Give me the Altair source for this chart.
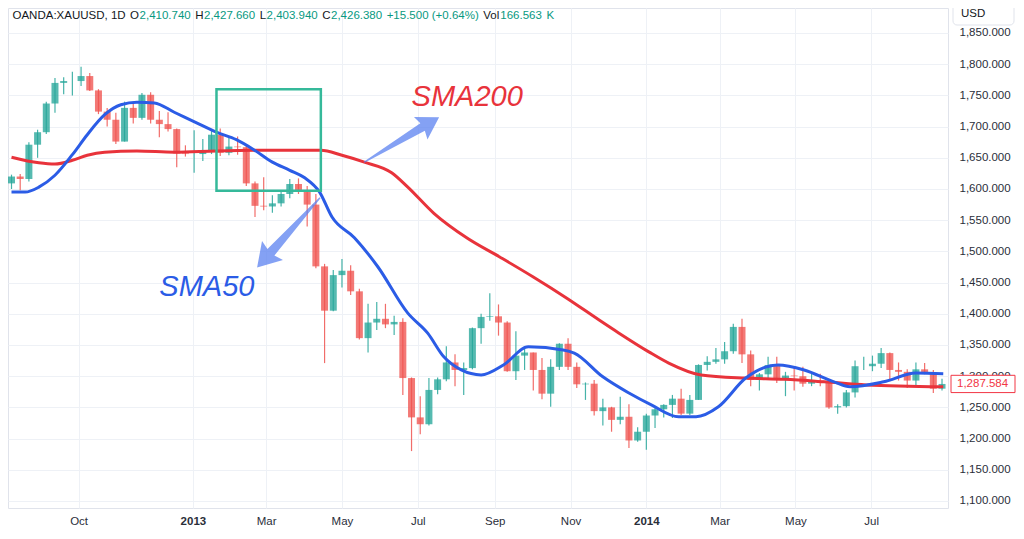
import altair as alt
import pandas as pd

# ---------------- data ----------------
week_dates = [
    "2012-08-08", "2012-08-15", "2012-08-22", "2012-08-29", "2012-09-05", "2012-09-12", "2012-09-19",
    "2012-09-26", "2012-10-03", "2012-10-10", "2012-10-17", "2012-10-24", "2012-10-31", "2012-11-07",
    "2012-11-14", "2012-11-21", "2012-11-28", "2012-12-05", "2012-12-12", "2012-12-19", "2012-12-26",
    "2013-01-02", "2013-01-09", "2013-01-16", "2013-01-23", "2013-01-30", "2013-02-06", "2013-02-13",
    "2013-02-20", "2013-02-27", "2013-03-06", "2013-03-13", "2013-03-20", "2013-03-27", "2013-04-03",
    "2013-04-10", "2013-04-17", "2013-04-24", "2013-05-01", "2013-05-08", "2013-05-15", "2013-05-22",
    "2013-05-29", "2013-06-05", "2013-06-12", "2013-06-19", "2013-06-26", "2013-07-03", "2013-07-10",
    "2013-07-17", "2013-07-24", "2013-07-31", "2013-08-07", "2013-08-14", "2013-08-21", "2013-08-28",
    "2013-09-04", "2013-09-11", "2013-09-18", "2013-09-25", "2013-10-02", "2013-10-09", "2013-10-16",
    "2013-10-23", "2013-10-30", "2013-11-06", "2013-11-13", "2013-11-20", "2013-11-27", "2013-12-04",
    "2013-12-11", "2013-12-18", "2013-12-25", "2014-01-01", "2014-01-08", "2014-01-15", "2014-01-22",
    "2014-01-29", "2014-02-05", "2014-02-12", "2014-02-19", "2014-02-26", "2014-03-05", "2014-03-12",
    "2014-03-19", "2014-03-26", "2014-04-02", "2014-04-09", "2014-04-16", "2014-04-23", "2014-04-30",
    "2014-05-07", "2014-05-14", "2014-05-21", "2014-05-28", "2014-06-04", "2014-06-11", "2014-06-18",
    "2014-06-25", "2014-07-02", "2014-07-09", "2014-07-16", "2014-07-23", "2014-07-30", "2014-08-06",
    "2014-08-13", "2014-08-20", "2014-08-27",
]
opens = [
    1609, 1620, 1616, 1671, 1691, 1737, 1770, 1773, 1773, 1781, 1758, 1724, 1711, 1676, 1730, 1714,
    1751, 1711, 1704, 1696, 1657, 1656, 1656, 1662, 1687, 1658, 1668, 1667, 1609, 1573, 1572, 1577,
    1592, 1608, 1597, 1575, 1476, 1405, 1462, 1469, 1436, 1361, 1386, 1392, 1383, 1387, 1297, 1234,
    1223, 1278, 1295, 1322, 1310, 1313, 1377, 1395, 1396, 1386, 1308, 1333, 1338, 1310, 1272, 1315,
    1352, 1315, 1287, 1288, 1244, 1250, 1230, 1235, 1197, 1211, 1237, 1247, 1254, 1264, 1240, 1262,
    1318, 1323, 1327, 1340, 1379, 1335, 1294, 1303, 1318, 1294, 1301, 1300, 1288, 1293, 1292, 1250,
    1252, 1274, 1316, 1316, 1320, 1337, 1310, 1307, 1293, 1311, 1306, 1280,
]
highs = [
    1623, 1624, 1675, 1695, 1740, 1778, 1779, 1788, 1796, 1786, 1760, 1730, 1722, 1740, 1737, 1754,
    1755, 1725, 1723, 1697, 1670, 1694, 1680, 1694, 1697, 1685, 1684, 1672, 1612, 1619, 1590, 1596,
    1616, 1617, 1605, 1592, 1480, 1470, 1488, 1478, 1440, 1416, 1419, 1416, 1397, 1393, 1298, 1268,
    1297, 1298, 1348, 1335, 1322, 1378, 1400, 1433, 1415, 1388, 1372, 1345, 1338, 1329, 1327, 1353,
    1361, 1322, 1290, 1294, 1264, 1251, 1267, 1255, 1218, 1240, 1249, 1255, 1270, 1280, 1270, 1319,
    1332, 1345, 1355, 1384, 1392, 1341, 1305, 1331, 1331, 1307, 1316, 1315, 1306, 1304, 1294, 1255,
    1278, 1325, 1331, 1333, 1345, 1338, 1322, 1311, 1322, 1321, 1310, 1296,
]
lows = [
    1600, 1598, 1612, 1650, 1688, 1722, 1752, 1750, 1765, 1757, 1720, 1700, 1672, 1676, 1705, 1711,
    1705, 1683, 1692, 1635, 1652, 1626, 1645, 1656, 1653, 1654, 1655, 1605, 1555, 1566, 1562, 1572,
    1585, 1592, 1540, 1473, 1321, 1404, 1442, 1430, 1359, 1338, 1374, 1377, 1366, 1270, 1180, 1207,
    1221, 1271, 1292, 1284, 1270, 1311, 1352, 1389, 1365, 1307, 1294, 1310, 1277, 1263, 1251, 1310,
    1310, 1281, 1262, 1237, 1221, 1211, 1223, 1185, 1195, 1182, 1217, 1234, 1233, 1238, 1238, 1262,
    1309, 1320, 1320, 1336, 1321, 1284, 1277, 1294, 1289, 1268, 1277, 1283, 1284, 1284, 1248, 1240,
    1250, 1266, 1310, 1308, 1313, 1292, 1293, 1281, 1285, 1303, 1273, 1277,
]
closes = [
    1620, 1616, 1671, 1691, 1737, 1770, 1773, 1773, 1781, 1758, 1724, 1711, 1676, 1730, 1714, 1751,
    1711, 1704, 1696, 1657, 1656, 1656, 1662, 1687, 1658, 1668, 1667, 1609, 1573, 1572, 1577, 1592,
    1608, 1597, 1575, 1476, 1405, 1462, 1469, 1436, 1361, 1386, 1392, 1383, 1387, 1297, 1234, 1223,
    1278, 1295, 1322, 1310, 1313, 1377, 1395, 1396, 1386, 1308, 1333, 1338, 1310, 1272, 1315, 1352,
    1315, 1287, 1288, 1244, 1250, 1230, 1235, 1197, 1211, 1237, 1247, 1254, 1264, 1240, 1262, 1318,
    1323, 1327, 1340, 1379, 1335, 1294, 1303, 1318, 1294, 1301, 1300, 1288, 1293, 1292, 1250, 1252,
    1274, 1316, 1316, 1320, 1337, 1310, 1307, 1293, 1311, 1306, 1280, 1287.584,
]

sma50_dates = [
    "2012-08-08", "2012-08-19", "2012-08-30", "2012-09-12", "2012-09-26", "2012-10-08", "2012-10-22",
    "2012-11-04", "2012-11-17", "2012-12-01", "2012-12-17", "2013-01-04", "2013-01-20", "2013-02-05",
    "2013-02-19", "2013-03-06", "2013-03-20", "2013-04-01", "2013-04-13", "2013-04-23", "2013-05-11",
    "2013-05-30", "2013-06-23", "2013-07-09", "2013-07-22", "2013-08-05", "2013-08-21", "2013-09-08",
    "2013-09-28", "2013-10-26", "2013-11-04", "2013-11-27", "2013-12-18", "2014-01-05", "2014-01-27",
    "2014-02-10", "2014-02-28", "2014-03-22", "2014-04-17", "2014-05-08", "2014-06-01", "2014-06-14",
    "2014-07-11", "2014-08-06", "2014-08-28",
]
sma50_values = [
    1595, 1595, 1603, 1622, 1655, 1687, 1719, 1735, 1739, 1738, 1723, 1706, 1691, 1679, 1663, 1643,
    1630, 1618, 1595, 1555, 1522, 1475, 1401, 1369, 1331, 1310, 1302, 1318, 1347, 1342, 1337, 1299,
    1273, 1254, 1235, 1235, 1251, 1297, 1318, 1310, 1291, 1283, 1291, 1305, 1304,
]
sma200_dates = [
    "2012-08-08", "2012-08-30", "2012-09-12", "2012-09-26", "2012-10-08", "2012-10-22", "2012-11-17",
    "2012-12-17", "2013-01-20", "2013-02-26", "2013-04-14", "2013-05-01", "2013-05-19", "2013-06-10",
    "2013-06-23", "2013-07-14", "2013-08-10", "2013-09-05", "2013-10-02", "2013-10-29", "2013-11-24",
    "2013-12-10", "2014-01-03", "2014-01-19", "2014-02-14", "2014-03-22", "2014-04-22", "2014-05-24",
    "2014-06-27", "2014-08-28",
]
sma200_values = [
    1651, 1642, 1640, 1646, 1654, 1659, 1661, 1659, 1661, 1662, 1662, 1654, 1643, 1626, 1603, 1561,
    1521, 1491, 1459, 1425, 1390, 1369, 1339, 1321, 1302, 1297, 1295, 1291, 1286, 1283,
]

price_ticks = [1100, 1150, 1200, 1250, 1300, 1350, 1400, 1450, 1500, 1550, 1600, 1650, 1700, 1750, 1800, 1850]
month_ticks = [(2012, 10, 1), (2013, 1, 1), (2013, 3, 1), (2013, 5, 1), (2013, 7, 1), (2013, 9, 1),
               (2013, 11, 1), (2014, 1, 1), (2014, 3, 1), (2014, 5, 1), (2014, 7, 1)]

box_dates = ["2013-01-20", "2013-04-14"]
box_prices = [1597, 1760]
label_texts = ["SMA200", "SMA50"]
label_dates = ["2013-06-26", "2012-12-05"]
label_prices = [1747, 1443]
arrow_dates = ["2013-06-18", "2013-03-19"]
arrow_prices = [1679, 1530]

header_parts = [
    ("OANDA:XAUUSD, 1D", "lbl"), ("O", "lbl"), ("2,410.740", "val"), ("H", "lbl"), ("2,427.660", "val"),
    ("L", "lbl"), ("2,403.940", "val"), ("C", "lbl"), ("2,426.380", "val"), ("+15.500 (+0.64%)", "val"),
    ("Vol", "lbl"), ("166.563", "val"), ("K", "val"),
]

# ---------------- styles ----------------
FONT = "Liberation Sans"
UP = "#26a69a"
DOWN = "#ef5350"
RED = "#e8333b"
BLUE = "#2b5ce6"
TEAL = "#35b99a"
ARROWC = "#5b82f0"
DARK = "#131722"
GREEN = "#089981"
AXIS_TXT = "#2a2e39"
GRID = "#eef1f6"

XS = alt.Scale(type="utc", domain=[
    alt.DateTime(year=2012, month=8, date=9, hours=5, utc=True),
    alt.DateTime(year=2014, month=8, date=27, hours=19, utc=True)])
YS = alt.Scale(domain=[1088.78, 1890.06], nice=False, zero=False)

XAXIS = alt.Axis(
    values=[alt.DateTime(year=y, month=m, date=d, utc=True) for (y, m, d) in month_ticks],
    labelExpr="utcFormat(datum.value, '%m') == '01' ? utcFormat(datum.value, '%Y') : utcFormat(datum.value, '%b')",
    labelFontWeight={"expr": "utcFormat(datum.value, '%m') == '01' ? 'bold' : 'normal'"},
    labelOverlap=False, labelFlush=False, ticks=False, tickSize=0, domain=False, grid=True,
    gridColor=GRID, labelPadding=7, labelFontSize=11.5, labelColor=AXIS_TXT, labelFont=FONT, title=None)
YAXIS = alt.Axis(
    orient="right", values=price_ticks, format=",.3f", ticks=False, tickSize=0, domain=False,
    grid=True, gridColor=GRID, labelPadding=11, labelFontSize=11.5, labelColor=AXIS_TXT,
    labelFont=FONT, title=None)


def X(field):
    return alt.X(field, scale=XS, axis=XAXIS, title=None)


def Y(field):
    return alt.Y(field, scale=YS, axis=YAXIS, title=None)


cdf = pd.DataFrame({"date": week_dates, "open": opens, "high": highs, "low": lows, "close": closes})
col = alt.condition("datum.close >= datum.open", alt.value(UP), alt.value(DOWN))

wicks = alt.Chart(cdf).mark_rule(strokeWidth=1.2, opacity=0.85).encode(
    x=X("date:T"), y=Y("low:Q"), y2="high:Q", color=col)
bodies = alt.Chart(cdf).mark_bar(width=7, opacity=0.78).encode(
    x=X("date:T"), y=Y("open:Q"), y2="close:Q", color=col)

s200 = pd.DataFrame({"date": sma200_dates, "value": sma200_values})
s50 = pd.DataFrame({"date": sma50_dates, "value": sma50_values})
line200 = alt.Chart(s200).mark_line(color=RED, strokeWidth=3, interpolate="monotone").encode(
    x=X("date:T"), y=Y("value:Q"))
line50 = alt.Chart(s50).mark_line(color=BLUE, strokeWidth=3, interpolate="monotone").encode(
    x=X("date:T"), y=Y("value:Q"))

bdf = pd.DataFrame({"x1": [box_dates[0]], "x2": [box_dates[1]], "y1": [box_prices[0]], "y2": [box_prices[1]]})
box = alt.Chart(bdf).mark_rect(fill="transparent", stroke=TEAL, strokeWidth=2.5).encode(
    x=X("x1:T"), x2="x2:T", y=Y("y1:Q"), y2="y2:Q")

ARROW = "M -1 -0.015 L 0.56 -0.1 L 0.51 -0.3 L 1 0 L 0.51 0.3 L 0.56 0.1 L -1 0.015 Z"
a1 = pd.DataFrame({"date": [arrow_dates[0]], "price": [arrow_prices[0]]})
a2 = pd.DataFrame({"date": [arrow_dates[1]], "price": [arrow_prices[1]]})
arrow1 = alt.Chart(a1).mark_point(shape=ARROW, filled=True, size=7656, angle=329, color=ARROWC,
                                  opacity=0.75, strokeWidth=0).encode(x=X("date:T"), y=Y("price:Q"))
arrow2 = alt.Chart(a2).mark_point(shape=ARROW, filled=True, size=8836, angle=132, color=ARROWC,
                                  opacity=0.75, strokeWidth=0).encode(x=X("date:T"), y=Y("price:Q"))

l1 = pd.DataFrame({"date": [label_dates[0]], "price": [label_prices[0]], "t": [label_texts[0]]})
l2 = pd.DataFrame({"date": [label_dates[1]], "price": [label_prices[1]], "t": [label_texts[1]]})
txt1 = alt.Chart(l1).mark_text(font=FONT, fontSize=29, fontStyle="italic", align="left",
                               baseline="middle", color=RED).encode(x=X("date:T"), y=Y("price:Q"), text="t:N")
txt2 = alt.Chart(l2).mark_text(font=FONT, fontSize=29, fontStyle="italic", align="left",
                               baseline="middle", color=BLUE).encode(x=X("date:T"), y=Y("price:Q"), text="t:N")

# last price label on the right axis
pdf = pd.DataFrame({"price": [closes[-1]], "t": [f"{closes[-1]:,.3f}"]})
LBOX = "M -1 -0.27 L 1 -0.27 L 1 0.27 L -1 0.27 Z"
pbox = alt.Chart(pdf).mark_point(shape=LBOX, filled=True, size=4096, fill="white", stroke="#f23645",
                                 strokeWidth=1, opacity=1).encode(x=alt.value(975), y=Y("price:Q"))
ptxt = alt.Chart(pdf).mark_text(font=FONT, fontSize=11.5, align="left", baseline="middle",
                                color="#f23645").encode(x=alt.value(949), y=Y("price:Q"), text="t:N")

# "USD" box on top of the price axis
one = alt.Data(values=[{"k": 1}])
usd_box = alt.Chart(one).mark_rect(fill="white", stroke="#e0e3eb", strokeWidth=1, cornerRadius=4).encode(
    x=alt.value(945), x2=alt.value(1006), y=alt.value(-4), y2=alt.value(17))
usd_txt = alt.Chart(one).mark_text(font=FONT, fontSize=11.5, align="left", baseline="middle",
                                   color=DARK, text="USD").encode(x=alt.value(953), y=alt.value(6))

# header legend
AW = {' ': 278, '%': 889, '(': 333, ')': 333, '+': 584, ',': 278, '.': 278, ':': 278,
      'A': 667, 'C': 722, 'D': 722, 'H': 722, 'K': 667, 'L': 556, 'N': 722, 'O': 778,
      'S': 667, 'U': 722, 'X': 667, 'V': 667, 'o': 556, 'l': 222}
HFS = 11.5


def tw(s):
    return sum(AW.get(c, 556) for c in s) * HFS / 1000.0


header_layers = []
xpos = 4.5
prev_kind = None
for i, (s, kind) in enumerate(header_parts):
    if i > 0:
        if kind == "val" and prev_kind == "lbl":
            xpos += 0.5
        else:
            xpos += 4.5
    header_layers.append(
        alt.Chart(one).mark_text(font=FONT, fontSize=HFS, align="left", baseline="middle",
                                 color=(DARK if kind == "lbl" else GREEN), text=s)
        .encode(x=alt.value(xpos), y=alt.value(8)))
    xpos += tw(s)
    prev_kind = kind

chart = alt.layer(
    wicks, bodies, line200, line50, box, arrow1, arrow2, txt1, txt2, pbox, ptxt, usd_box, usd_txt,
    *header_layers
).properties(
    width=940, height=500,
    padding={"left": 0, "top": 0, "right": 68, "bottom": 31},
    autosize=alt.AutoSizeParams(type="none"),
    background="white",
).configure_view(stroke="#e0e3eb")

chart.save("out.html", embed_options={"renderer": "svg", "actions": False})
